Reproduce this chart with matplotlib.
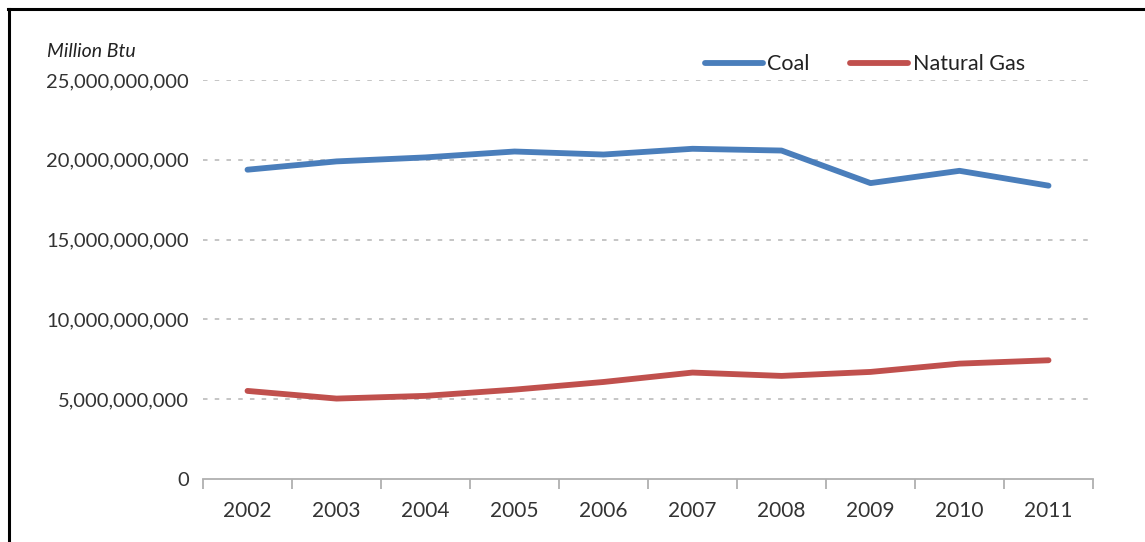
import numpy as np
import matplotlib
matplotlib.use("Agg")
import matplotlib.pyplot as plt
from matplotlib.lines import Line2D
from matplotlib.ticker import FuncFormatter, FixedLocator

# data (Million Btu)
years = [2002, 2003, 2004, 2005, 2006, 2007, 2008, 2009, 2010, 2011]
coal = [19.38e9, 19.90e9, 20.15e9, 20.52e9, 20.33e9, 20.69e9, 20.58e9, 18.54e9, 19.31e9, 18.38e9]
natural_gas = [5.52e9, 5.04e9, 5.21e9, 5.60e9, 6.08e9, 6.67e9, 6.46e9, 6.71e9, 7.23e9, 7.44e9]
y_ticks = [0, 5e9, 10e9, 15e9, 20e9, 25e9]

plt.rcParams['font.family'] = ['Lato', 'DejaVu Sans']

fig = plt.figure(figsize=(11.45, 5.42), dpi=100)
ax = fig.add_axes([0.1773, 0.1162, 0.7773, 0.7362])

x = np.arange(len(years))
ax.plot(x, coal, color='#4a7ebb', lw=4.2, solid_capstyle='round', label='Coal')
ax.plot(x, natural_gas, color='#c0504d', lw=4.2, solid_capstyle='round', label='Natural Gas')

ax.set_xlim(-0.5, len(years) - 0.5)
ax.set_ylim(0, 25e9)

ax.set_yticks(y_ticks)
ax.yaxis.set_major_formatter(FuncFormatter(lambda v, p: '{:,.0f}'.format(v)))
ax.tick_params(axis='y', length=0, pad=10, labelsize=14.5, labelcolor='#333333')

# year labels centred, ticks on the boundaries
ax.set_xticks(x)
ax.set_xticklabels([str(y) for y in years])
ax.xaxis.set_minor_locator(FixedLocator(np.arange(-0.5, len(years), 1.0)))
ax.tick_params(axis='x', which='major', length=0, pad=16, labelsize=15, labelcolor='#333333')
ax.tick_params(axis='x', which='minor', length=7, width=1.3, color='#b0b0b0', direction='out')

for y in y_ticks[1:]:
    ax.axhline(y, color='#c0c0c0', lw=1.3, ls=(0, (2.5, 4)), zorder=0)

for s in ['top', 'right', 'left']:
    ax.spines[s].set_visible(False)
ax.spines['bottom'].set_color('#b0b0b0')
ax.spines['bottom'].set_linewidth(1.3)

ax.legend(loc='center right', bbox_to_anchor=(0.933, 1.04), ncol=2, frameon=False,
          fontsize=15.5, handlelength=2.7, handletextpad=0.2, columnspacing=1.9,
          borderaxespad=0, labelcolor='#222222')

fig.text(0.041, 0.905, 'Million Btu', fontsize=14, style='italic', color='#222222', va='center')

# black frame on top and left
fig.add_artist(Line2D([0.007, 1.0], [0.983, 0.983], color='black', lw=2.2, transform=fig.transFigure))
fig.add_artist(Line2D([0.008, 0.008], [0.0, 0.984], color='black', lw=2.2, transform=fig.transFigure))

fig.savefig('out.png', dpi=100)
